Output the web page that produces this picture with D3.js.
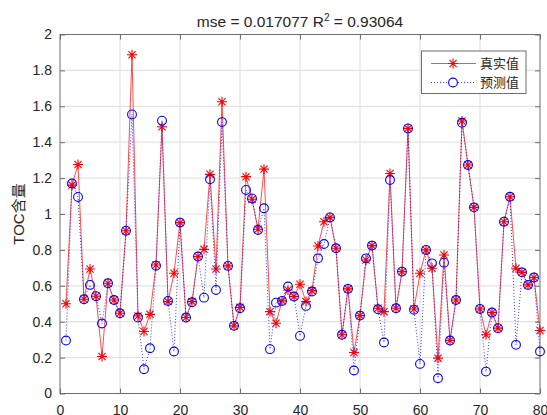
<!DOCTYPE html>
<html>
<head>
<meta charset="utf-8">
<script src="https://cdn.jsdelivr.net/npm/d3@7"></script>
<style>
  body { margin: 0; background: #fff; }
  svg { display: block; }
  text { font-family: "Liberation Sans", Arial, "Noto Sans CJK SC", sans-serif; fill: #262626; }
  .cjk { font-family: "Noto Sans CJK SC", sans-serif; }
</style>
</head>
<body>
<div id="chart"></div>
<script>
// 样本序号 1..80
var sampleIdx = d3.range(1, 81);

// 真实值
var actualVals = [0.50, 1.161, 1.276, 0.525, 0.694, 0.542, 0.206, 0.614, 0.521, 0.447,
    0.907, 1.887, 0.432, 0.345, 0.441, 0.716, 1.486, 0.512, 0.670, 0.952,
    0.423, 0.512, 0.763, 0.803, 1.221, 0.694, 1.625, 0.711, 0.377, 0.480,
    1.208, 1.082, 0.915, 1.250, 0.456, 0.391, 0.516, 0.577, 0.540, 0.609,
    0.512, 0.573, 0.822, 0.957, 0.981, 0.809, 0.327, 0.583, 0.228, 0.434,
    0.744, 0.824, 0.475, 0.456, 1.226, 0.475, 0.679, 1.477, 0.471, 0.670,
    0.800, 0.698, 0.197, 0.772, 0.295, 0.521, 1.518, 1.273, 1.037, 0.471,
    0.327, 0.451, 0.364, 0.957, 1.096, 0.698, 0.675, 0.605, 0.646, 0.351];

// 预测值
var predVals = [0.295, 1.170, 1.095, 0.525, 0.605, 0.542, 0.390, 0.614, 0.521, 0.447,
    0.907, 1.555, 0.423, 0.135, 0.252, 0.712, 1.520, 0.516, 0.234, 0.952,
    0.423, 0.508, 0.763, 0.534, 1.193, 0.577, 1.512, 0.711, 0.377, 0.475,
    1.134, 1.087, 0.911, 1.032, 0.247, 0.506, 0.516, 0.596, 0.540, 0.321,
    0.488, 0.568, 0.753, 0.833, 0.981, 0.809, 0.327, 0.583, 0.128, 0.434,
    0.753, 0.824, 0.469, 0.284, 1.189, 0.475, 0.679, 1.477, 0.466, 0.165,
    0.800, 0.725, 0.085, 0.729, 0.295, 0.521, 1.508, 1.273, 1.037, 0.471,
    0.122, 0.451, 0.364, 0.957, 1.096, 0.271, 0.675, 0.605, 0.646, 0.234];

var xTicks = [0, 10, 20, 30, 40, 50, 60, 70, 80];
var yTicks = [0, 0.2, 0.4, 0.6, 0.8, 1, 1.2, 1.4, 1.6, 1.8, 2];
var legendNames = ["真实值", "预测值"];

var width = 547, height = 415;
var pLeft = 60, pRight = 540, pTop = 34.5, pBottom = 393.5;
var axisCol = "#262626";
var boxCol = "#6e6e6e";

var svg = d3.select("#chart").append("svg")
    .attr("width", width)
    .attr("height", height);

var x = d3.scaleLinear().domain([0, 80]).range([pLeft, pRight]);
var y = d3.scaleLinear().domain([0, 2]).range([pBottom, pTop]);

// grid
svg.append("g").selectAll("line")
    .data(xTicks.slice(1, -1))
    .enter().append("line")
    .attr("x1", d => x(d)).attr("x2", d => x(d))
    .attr("y1", pTop).attr("y2", pBottom)
    .attr("stroke", "#e3e3e3").attr("stroke-width", 1.2);

svg.append("g").selectAll("line")
    .data(yTicks.slice(1, -1))
    .enter().append("line")
    .attr("x1", pLeft).attr("x2", pRight)
    .attr("y1", d => y(d)).attr("y2", d => y(d))
    .attr("stroke", "#e3e3e3").attr("stroke-width", 1.2);

// axes (ticks inward, box on)
var tickLen = 5;
var xAxisB = d3.axisBottom(x).tickValues(xTicks).tickSize(-tickLen).tickPadding(12).tickFormat(d3.format("d"));
var xAxisT = d3.axisTop(x).tickValues(xTicks).tickSize(-tickLen).tickFormat("");
var yAxisL = d3.axisLeft(y).tickValues(yTicks).tickSize(-tickLen).tickPadding(8).tickFormat(d => String(+d.toFixed(1)));
var yAxisR = d3.axisRight(y).tickValues(yTicks).tickSize(-tickLen).tickFormat("");

function styleAxis(g) {
    g.select(".domain").remove();
    g.selectAll(".tick line").attr("stroke", boxCol);
    g.selectAll(".tick text").attr("fill", axisCol).style("font-size", "14px")
        .style("font-family", '"Liberation Sans", Arial, sans-serif');
}

svg.append("g").attr("transform", "translate(0," + pBottom + ")").call(xAxisB).call(styleAxis);
svg.append("g").attr("transform", "translate(0," + pTop + ")").call(xAxisT).call(styleAxis);
svg.append("g").attr("transform", "translate(" + pLeft + ",0)").call(yAxisL).call(styleAxis);
svg.append("g").attr("transform", "translate(" + pRight + ",0)").call(yAxisR).call(styleAxis);

svg.append("rect")
    .attr("x", pLeft).attr("y", pTop)
    .attr("width", pRight - pLeft).attr("height", pBottom - pTop)
    .attr("fill", "none").attr("stroke", boxCol).attr("stroke-width", 1);

// lines
var line = d3.line().x((d, i) => x(sampleIdx[i])).y(d => y(d));

svg.append("path")
    .datum(actualVals)
    .attr("d", line)
    .attr("fill", "none")
    .attr("stroke", "#ff2020")
    .attr("stroke-width", 0.8);

function asterisk(r) {
    var d = r * 0.72;
    return "M" + (-r) + ",0L" + r + ",0M0," + (-r) + "L0," + r +
        "M" + (-d) + "," + (-d) + "L" + d + "," + d +
        "M" + (-d) + "," + d + "L" + d + "," + (-d);
}

svg.append("g").selectAll("path")
    .data(actualVals)
    .enter().append("path")
    .attr("transform", (d, i) => "translate(" + x(sampleIdx[i]) + "," + y(d) + ")")
    .attr("d", asterisk(5))
    .attr("stroke", "#ff0000")
    .attr("stroke-width", 1.1)
    .attr("fill", "none");

svg.append("path")
    .datum(predVals)
    .attr("d", line)
    .attr("fill", "none")
    .attr("stroke", "#2020ff")
    .attr("stroke-width", 0.9)
    .attr("stroke-dasharray", "1,2");

svg.append("g").selectAll("circle")
    .data(predVals)
    .enter().append("circle")
    .attr("cx", (d, i) => x(sampleIdx[i]))
    .attr("cy", d => y(d))
    .attr("r", 4.4)
    .attr("fill", "none")
    .attr("stroke", "#0000ff")
    .attr("stroke-width", 1.1);

// title
var title = svg.append("text")
    .attr("x", (pLeft + pRight) / 2)
    .attr("y", 27)
    .attr("text-anchor", "middle")
    .style("font-size", "15.5px")
    .attr("fill", "#000");
title.append("tspan").text("mse = 0.017077 R");
title.append("tspan").attr("dy", -6).style("font-size", "10px").text("2");
title.append("tspan").attr("dy", 6).text(" = 0.93064");

// y label
svg.append("text")
    .attr("transform", "translate(24," + ((pTop + pBottom) / 2) + ") rotate(-90)")
    .attr("text-anchor", "middle")
    .style("font-size", "15px")
    .text("TOC含量");

// legend
var lg = svg.append("g");
lg.append("rect")
    .attr("x", 421.5).attr("y", 51)
    .attr("width", 104.5).attr("height", 42.5)
    .attr("fill", "#fff").attr("stroke", boxCol).attr("stroke-width", 1);

var rowY = [63.5, 82.5];
lg.append("line").attr("x1", 431).attr("x2", 476).attr("y1", rowY[0]).attr("y2", rowY[0])
    .attr("stroke", "#ff2020").attr("stroke-width", 0.8);
lg.append("path").attr("transform", "translate(453," + rowY[0] + ")").attr("d", asterisk(5))
    .attr("stroke", "#ff0000").attr("stroke-width", 1.1).attr("fill", "none");
lg.append("line").attr("x1", 431).attr("x2", 476).attr("y1", rowY[1]).attr("y2", rowY[1])
    .attr("stroke", "#2020ff").attr("stroke-width", 0.9).attr("stroke-dasharray", "1,2");
lg.append("circle").attr("cx", 453).attr("cy", rowY[1]).attr("r", 4.4)
    .attr("fill", "#fff").attr("stroke", "#0000ff").attr("stroke-width", 1.1);

lg.selectAll("text")
    .data(legendNames)
    .enter().append("text")
    .attr("class", "cjk")
    .attr("x", 480)
    .attr("y", (d, i) => rowY[i])
    .attr("dy", "0.35em")
    .style("font-size", "13px")
    .text(d => d);
</script>
</body>
</html>
